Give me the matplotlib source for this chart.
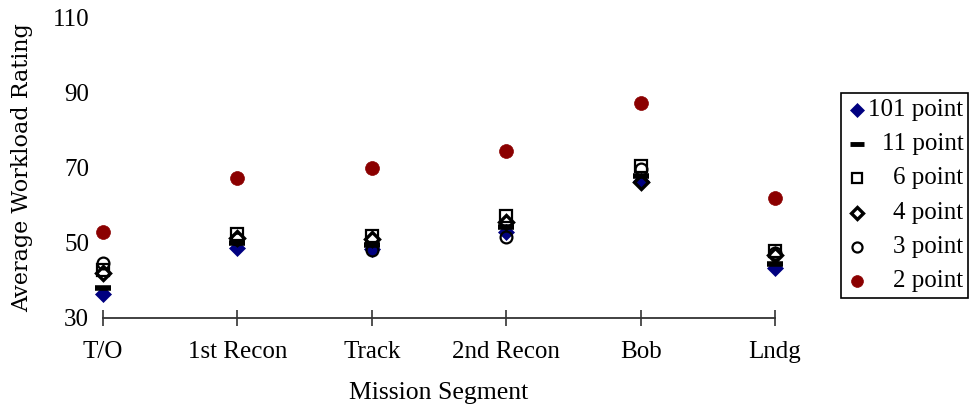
import matplotlib.pyplot as plt
import matplotlib.patches as patches

plt.rcParams['font.family'] = ['Liberation Serif', 'DejaVu Serif']

segments = ["T/O", "1st Recon", "Track", "2nd Recon", "Bob", "Lndg"]

pt101 = [36.4, 48.6, 48.3, 52.9, 66.5, 43.3]
pt11 = [37.9, 49.9, 49.3, 54.1, 67.8, 44.4]
pt6 = [42.8, 52.2, 51.7, 57.0, 70.5, 47.8]
pt4 = [41.9, 51.3, 51.0, 55.4, 66.2, 46.7]
pt3 = [44.5, 51.0, 48.1, 51.5, 69.6, 47.2]
pt2 = [52.8, 67.1, 70.0, 74.3, 87.1, 61.8]

series = [
    ("101 point", pt101, dict(marker="D", ms=8.5, mfc="#000080", mec="#000080", mew=0.5)),
    ("11 point", pt11, dict(marker="_", ms=12, mec="black", mew=4)),
    ("6 point", pt6, dict(marker="s", ms=8, mfc="none", mec="black", mew=1.6)),
    ("4 point", pt4, dict(marker="D", ms=7.5, mfc="none", mec="black", mew=2.4)),
    ("3 point", pt3, dict(marker="o", ms=8.5, mfc="none", mec="black", mew=1.6)),
    ("2 point", pt2, dict(marker="o", ms=10, mfc="#8B0000", mec="#8B0000", mew=0.5)),
]

fig = plt.figure(figsize=(9.69, 4.09), dpi=100)
ax = fig.add_axes([0.1063, 0.2225, 0.6935, 0.7359])

x = list(range(len(segments)))
for name, vals, style in series:
    ax.plot(x, vals, linestyle="none", clip_on=False, **style)

ax.set_xlim(0, len(segments) - 1)
ax.set_ylim(30, 110)
ax.set_yticks([30, 50, 70, 90, 110])
ax.set_xticks(x)
ax.set_xticklabels(segments)

for side in ["top", "right", "left"]:
    ax.spines[side].set_visible(False)
ax.spines["bottom"].set_color("#333333")
ax.spines["bottom"].set_linewidth(1.3)

ax.tick_params(axis="y", length=0, pad=10, labelsize=18)
ax.tick_params(axis="x", direction="inout", length=11, width=1.2,
               color="#333333", pad=11, labelsize=18)

ax.set_xlabel("Mission Segment", fontsize=18.5, labelpad=14)
ax.set_ylabel("Average Workload Rating", fontsize=16, labelpad=14,
              family=["DejaVu Serif"])

# legend box drawn in its own axes so the labels can be right-aligned
lax = fig.add_axes([0.868, 0.2714, 0.131, 0.501])
lax.set_xlim(0, 1)
lax.set_ylim(0, 1)
lax.axis("off")
lax.add_patch(patches.Rectangle((0, 0), 1, 1, transform=lax.transAxes,
                                fill=False, edgecolor="black", linewidth=1.2,
                                clip_on=False))
n = len(series)
for i, (name, vals, style) in enumerate(series):
    yy = 1 - (i + 0.5) / n
    lstyle = dict(style)
    if lstyle["marker"] == "_":
        lstyle["ms"] = 10
        lstyle["mew"] = 3.5
    else:
        lstyle["ms"] = lstyle["ms"] * 0.85
    lax.plot([0.125], [yy], linestyle="none", **lstyle)
    lax.text(0.965, yy, name, ha="right", va="center", fontsize=18)

fig.savefig("out.png", dpi=100)
